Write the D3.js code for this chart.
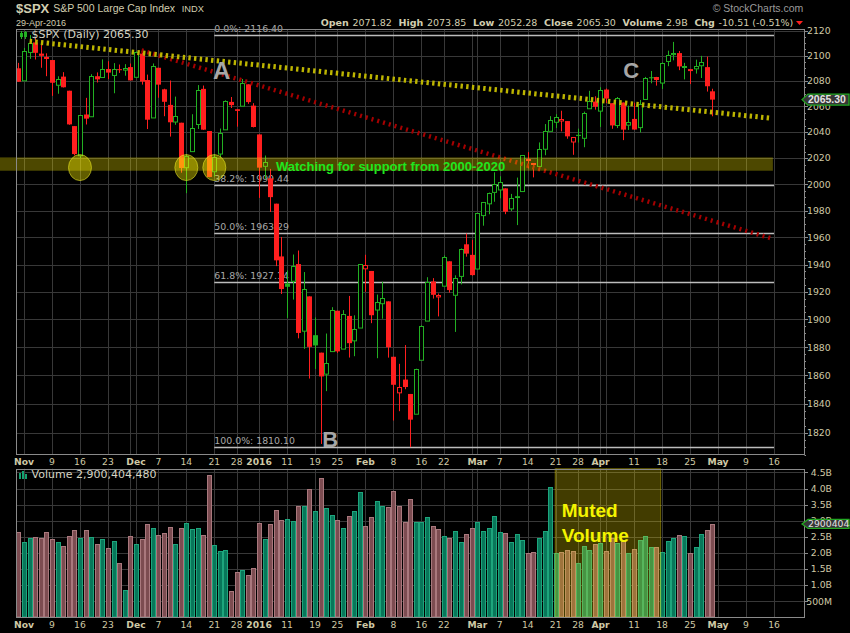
<!DOCTYPE html>
<html><head><meta charset="utf-8">
<script src="https://cdn.jsdelivr.net/npm/d3@7"></script>
<style>html,body{margin:0;padding:0;background:#000;}svg{display:block;}</style>
</head><body>
<svg id="c" width="850" height="633"></svg>
<script>
// ---------------- DATA ----------------
const prevClose = 2089.41; // close before first bar
const openP = [2090.00,2080.76,2102.63,2110.60,2101.68,2098.60,2096.56,2077.19,2083.41,2072.29,
2044.64,2022.08,2053.67,2051.99,2083.70,2082.82,2089.41,2084.42,2089.30,2088.82,
2090.95,2082.93,2101.71,2080.71,2051.24,2090.42,2073.39,2061.17,2047.93,2047.27,
2013.37,2025.55,2046.50,2073.76,2040.81,2010.27,2023.15,2042.20,2063.52,2057.77,
2060.54,2077.34,2060.59,2038.20,2013.78,2004.50,1985.32,1945.97,1926.12,1927.83,
1940.34,1891.68,1916.68,1888.66,1876.18,1861.46,1877.40,1906.28,1878.79,1902.52,
1885.22,1894.00,1936.94,1935.26,1907.07,1911.67,1913.07,1873.25,1848.46,1857.10,
1847.00,1833.40,1871.44,1898.80,1927.57,1916.74,1924.44,1942.38,1917.56,1931.87,
1954.95,1947.13,1937.09,1976.60,1985.60,1994.01,1996.11,1996.88,1981.44,1990.97,
1994.71,2019.27,2015.27,2014.24,2026.90,2041.16,2047.88,2048.64,2048.55,2032.48,
2037.89,2035.75,2058.27,2063.77,2056.62,2073.19,2062.50,2045.56,2063.01,2045.54,
2050.23,2043.72,2065.92,2082.89,2083.10,2078.83,2096.05,2101.52,2102.09,2091.49,
2089.37,2089.84,2092.57,2090.93,2071.82];
const highP = [2094.32,2106.20,2116.48,2114.59,2108.78,2101.91,2096.56,2083.67,2086.94,2072.29,
2044.64,2053.22,2066.69,2085.31,2086.74,2097.06,2095.61,2094.12,2093.00,2093.29,
2093.81,2103.37,2104.27,2085.00,2093.84,2090.42,2073.85,2080.33,2067.65,2047.27,
2022.92,2053.87,2076.72,2076.37,2040.81,2022.90,2042.74,2064.73,2067.36,2057.77,
2081.56,2077.34,2062.54,2038.20,2021.94,2011.71,1985.32,1960.40,1935.65,1947.38,
1950.33,1934.47,1916.68,1901.44,1876.18,1889.85,1908.85,1906.28,1906.73,1916.99,
1902.96,1940.24,1947.20,1935.26,1918.01,1927.35,1913.07,1873.25,1868.25,1881.60,
1847.00,1864.78,1895.77,1930.68,1930.00,1918.78,1946.70,1942.38,1932.08,1951.83,
1962.96,1958.27,1978.35,1986.51,1993.69,2009.13,2006.12,1996.88,1992.69,2005.08,
2022.37,2024.57,2015.94,2032.02,2046.24,2052.36,2053.91,2056.60,2048.55,2036.04,
2042.67,2055.91,2072.21,2067.92,2075.07,2074.02,2062.50,2067.33,2063.01,2060.63,
2062.93,2065.05,2083.18,2087.84,2083.22,2094.66,2104.05,2111.05,2103.78,2094.32,
2089.37,2096.87,2099.89,2099.30,2073.85];
const lowP = [2079.34,2080.76,2097.51,2096.98,2090.41,2083.74,2068.24,2069.91,2074.85,2045.66,
2022.02,2019.94,2045.90,2051.99,2078.76,2082.82,2081.39,2070.29,2086.30,2084.13,
2080.41,2082.93,2077.11,2042.35,2051.24,2066.78,2052.32,2036.53,2045.67,2008.80,
1993.26,2025.55,2042.43,2041.66,2005.33,2005.93,2020.49,2042.20,2058.73,2044.20,
2060.54,2061.97,2043.62,1989.68,2004.17,1979.05,1938.83,1918.46,1901.10,1914.35,
1886.41,1878.93,1857.83,1864.60,1812.29,1848.98,1877.40,1875.97,1878.79,1872.70,
1873.65,1894.00,1920.03,1897.29,1872.23,1900.52,1872.65,1828.46,1834.94,1850.32,
1810.10,1833.40,1871.44,1898.80,1915.09,1902.17,1924.44,1919.44,1891.00,1925.41,
1945.78,1931.81,1937.09,1968.80,1977.37,1986.77,1989.38,1977.43,1979.84,1969.25,
1994.71,2012.05,2005.23,2010.04,2022.16,2041.16,2043.14,2040.57,2034.86,2022.49,
2031.96,2028.31,2058.27,2057.46,2043.98,2062.57,2042.56,2043.09,2033.80,2041.69,
2041.88,2039.74,2065.92,2078.13,2076.31,2073.65,2091.68,2096.32,2088.52,2081.20,
2077.52,2085.80,2082.31,2071.62,2052.28];
const closeP = [2079.36,2104.05,2109.79,2102.31,2099.93,2099.20,2078.58,2081.72,2075.00,2045.97,
2023.04,2053.19,2050.44,2083.58,2081.24,2089.17,2086.59,2089.14,2088.87,2090.11,
2080.41,2102.63,2079.51,2049.62,2091.69,2077.07,2063.59,2047.62,2052.23,2012.37,
2021.94,2043.41,2073.07,2041.89,2005.55,2021.15,2038.97,2064.29,2060.99,2056.50,
2078.36,2063.36,2043.94,2012.66,2016.71,1990.26,1943.09,1922.03,1923.67,1938.68,
1890.28,1921.84,1880.33,1881.33,1859.33,1868.99,1906.90,1877.08,1903.63,1882.95,
1893.36,1940.24,1939.38,1903.03,1912.53,1915.45,1880.05,1853.44,1852.21,1851.86,
1829.08,1864.78,1895.58,1926.82,1917.83,1917.78,1945.50,1921.27,1929.80,1951.70,
1948.05,1932.23,1978.35,1986.45,1993.40,1999.99,2001.76,1979.26,1989.26,1989.57,
2022.19,2019.64,2015.93,2027.22,2040.59,2049.58,2051.60,2049.80,2036.71,2035.94,
2037.05,2055.01,2063.95,2059.74,2072.78,2066.13,2045.17,2066.66,2041.91,2047.60,
2041.99,2061.72,2082.42,2082.78,2080.73,2094.34,2100.80,2102.40,2091.48,2091.58,
2087.79,2091.70,2095.15,2075.81,2065.30];
// volume in billions of shares
const volumeB = [2.64,2.34,2.45,2.48,2.45,2.64,2.43,2.33,2.20,2.52,
2.70,2.45,2.70,2.48,2.27,2.42,2.14,2.36,1.68,0.84,
2.52,2.27,2.42,2.89,2.77,2.55,2.61,2.80,2.27,2.77,
2.92,2.73,2.77,2.55,4.41,2.24,2.05,2.08,0.81,1.40,
1.46,1.30,1.52,2.92,2.42,2.89,3.32,3.01,3.04,2.98,
3.45,3.45,3.98,3.29,4.32,3.39,3.17,3.01,2.77,3.14,
3.29,3.88,2.83,3.11,3.60,3.45,3.42,3.91,3.45,2.95,
3.67,2.95,2.95,3.11,2.84,2.73,2.52,2.46,2.67,2.33,
2.58,2.76,2.95,2.67,2.76,3.14,2.64,2.61,2.33,2.58,
2.39,1.99,2.02,2.45,2.67,4.04,1.99,2.02,2.08,2.05,
1.68,2.20,2.08,2.27,2.30,2.05,2.45,2.30,2.39,1.99,
2.11,2.39,2.52,2.17,2.17,2.02,2.36,2.45,2.55,2.52,
1.99,2.17,2.58,2.70,2.900404480];
// trading calendar
const firstDay = "2015-10-30", lastDay = "2016-05-20";
const holidays = ["2015-11-26","2015-12-25","2016-01-01","2016-01-18","2016-02-15","2016-03-25"];
const tickDates  = ["2015-11-02","2015-11-09","2015-11-16","2015-11-23","2015-12-01","2015-12-07","2015-12-14","2015-12-21","2015-12-28","2016-01-04","2016-01-11","2016-01-19","2016-01-25","2016-02-01","2016-02-08","2016-02-16","2016-02-22","2016-03-01","2016-03-07","2016-03-14","2016-03-21","2016-03-28","2016-04-01","2016-04-11","2016-04-18","2016-04-25","2016-05-02","2016-05-09","2016-05-16"];
const tickLabels = ["Nov","9","16","23","Dec","7","14","21","28","2016","11","19","25","Feb","8","16","22","Mar","7","14","21","28","Apr","11","18","25","May","9","16"];
const extraGridDates = ["2015-11-30","2016-02-29","2016-04-04"];
const priceTicks = [1820,1840,1860,1880,1900,1920,1940,1960,1980,2000,2020,2040,2060,2080,2100,2120];
const volTicks = [0.5,1.0,1.5,2.0,2.5,3.0,3.5,4.0,4.5];
const volTickLabels = ["500M","1.0B","1.5B","2.0B","2.5B","3.0B","3.5B","4.0B","4.5B"];
const fibLevels = [2116.40,1999.44,1963.29,1927.14,1810.10];
const fibLabels = ["0.0%: 2116.40","38.2%: 1999.44","50.0%: 1963.29","61.8%: 1927.14","100.0%: 1810.10"];
const fibSpan = ["2015-12-21","2016-05-16"];
const supportBand = [2010.3, 2020.5];
const supportCircles = ["2015-11-16","2015-12-14","2015-12-21"];
const circlePrice = 2012.7;
const yellowTrend = [[2, 2111.5],[134.64, 2050.7]];   // [bar position, price]
const redTrend    = [[22, 2104.3],[134.64, 1959.2]];
const letters = [["A",36.3,2081.3],["B",55.7,1810.2],["C",109.5,2082.1]];
const supportText = "Watching for support from 2000-2020";
const mutedSpan = [95.9, 114.75];

// ---------------- SETUP ----------------
const days=[];
for(let d=new Date(firstDay+"T12:00:00Z"); d<=new Date(lastDay+"T12:00:00Z"); d.setUTCDate(d.getUTCDate()+1)){
  const wd=d.getUTCDay(), s=d.toISOString().slice(0,10);
  if(wd===0||wd===6||holidays.includes(s)) continue;
  days.push(s);
}
const pos = s => days.indexOf(s);
const svg=d3.select("#c");
const P={l:16,r:804,t:30,b:455}, V={t:468.7,b:617.3};
const x=d3.scaleLinear().domain([-0.43,140.36]).range([P.l,P.r]);
const y=d3.scaleLog().domain([1804.7,2120.6]).range([P.b,P.t]);
const yv=d3.scaleLinear().domain([0,4.615]).range([V.b,V.t]);
const GREEN="#22b022", RED="#ff1f1f", GRID="#383838", AX="#cfc9a6", FRAME="#8a8a8a";
const FONT="'DejaVu Sans', Verdana, sans-serif", AR="'Liberation Sans', Arial, sans-serif";
const crisp=v=>Math.round(v)+0.5;

svg.append("rect").attr("width",850).attr("height",633).attr("fill","#000");

// ---------------- GRIDS ----------------
const gridPos = tickDates.concat(extraGridDates).map(pos);
const grid=svg.append("g").attr("stroke",GRID).attr("stroke-width",1);
grid.selectAll(".hp").data(priceTicks).join("line")
  .attr("x1",P.l).attr("x2",P.r).attr("y1",d=>crisp(y(d))).attr("y2",d=>crisp(y(d)));
grid.selectAll(".hv").data(volTicks).join("line")
  .attr("x1",P.l).attr("x2",P.r).attr("y1",d=>crisp(yv(d))).attr("y2",d=>crisp(yv(d)));
grid.selectAll(".vp").data(gridPos).join("line")
  .attr("x1",d=>crisp(x(d))).attr("x2",d=>crisp(x(d))).attr("y1",P.t).attr("y2",P.b);
grid.selectAll(".vv").data(gridPos).join("line")
  .attr("x1",d=>crisp(x(d))).attr("x2",d=>crisp(x(d))).attr("y1",V.t).attr("y2",V.b);

// ---------------- FIBONACCI ----------------
const fg=svg.append("g");
const fx1=x(pos(fibSpan[0])), fx2=x(pos(fibSpan[1]));
fg.selectAll("line").data(fibLevels).join("line")
  .attr("x1",fx1).attr("x2",fx2).attr("y1",d=>crisp(y(d))).attr("y2",d=>crisp(y(d)))
  .attr("stroke","#bdbdbd").attr("stroke-width",1.3);
fg.selectAll("text").data(fibLevels).join("text")
  .attr("x",fx1).attr("y",d=>y(d)-3.5).text((d,i)=>fibLabels[i])
  .attr("fill","#a9a9a9").attr("font-family",FONT).attr("font-size",9.4);

// ---------------- CANDLES ----------------
const bars=closeP.map((c,i)=>({i,o:openP[i],h:highP[i],l:lowP[i],c,
  up:c>=(i?closeP[i-1]:prevClose), hollow:c>openP[i], v:volumeB[i]}));
const cg=svg.append("g");
cg.selectAll("line").data(bars).join("line")
  .attr("x1",d=>Math.round(x(d.i))+0.5).attr("x2",d=>Math.round(x(d.i))+0.5)
  .attr("y1",d=>y(d.h)).attr("y2",d=>y(d.l)).attr("stroke",d=>d.up?GREEN:RED);
cg.selectAll("rect").data(bars).join("rect")
  .attr("x",d=>Math.round(x(d.i))-(d.hollow?1.5:2))
  .attr("y",d=>d.hollow?Math.round(y(Math.max(d.o,d.c)))+0.5:y(Math.max(d.o,d.c)))
  .attr("width",d=>d.hollow?4:5)
  .attr("height",d=>Math.max(1,y(Math.min(d.o,d.c))-y(Math.max(d.o,d.c))))
  .attr("fill",d=>d.hollow?"#000":(d.up?GREEN:RED))
  .attr("stroke",d=>d.hollow?(d.up?GREEN:RED):"none");

// ---------------- TRENDLINES ----------------
const tl=d3.line().x(d=>x(d[0])).y(d=>y(d[1]));
svg.append("path").attr("d",tl(redTrend)).attr("stroke","#a50000").attr("stroke-width",4.5)
  .attr("stroke-dasharray","2,4").attr("fill","none");
svg.append("path").attr("d",tl(yellowTrend)).attr("stroke","#bdb500").attr("stroke-width",5)
  .attr("stroke-dasharray","2.4,3.3").attr("fill","none");

// ---------------- SUPPORT BAND & CIRCLES ----------------
svg.append("rect").attr("x",0).attr("width",x(134.8))
  .attr("y",y(supportBand[1])).attr("height",y(supportBand[0])-y(supportBand[1]))
  .attr("fill","rgba(255,240,0,0.30)");
svg.selectAll(".circ").data(supportCircles).join("ellipse")
  .attr("cx",d=>x(pos(d))).attr("cy",y(circlePrice)).attr("rx",11.5).attr("ry",13)
  .attr("fill","rgba(255,245,0,0.38)").attr("stroke","rgba(235,235,40,0.55)").attr("stroke-width",1);
svg.append("text").attr("x",x(46.02)).attr("y",y(2010.3)).text(supportText)
  .attr("fill","#1fe61f").attr("font-family",AR).attr("font-weight","bold").attr("font-size",13);

svg.selectAll(".let").data(letters).join("text")
  .attr("x",d=>x(d[1])).attr("y",d=>y(d[2])).attr("text-anchor","middle").text(d=>d[0])
  .attr("fill","#a6a6a6").attr("font-family",AR).attr("font-weight","bold")
  .attr("font-size",d=>d[0]==="A"?24:22);

// ---------------- VOLUME ----------------
const vg=svg.append("g");
vg.selectAll("rect").data(bars).join("rect")
  .attr("x",d=>Math.round(x(d.i))-1.5).attr("width",4)
  .attr("y",d=>Math.round(yv(d.v))+0.5).attr("height",d=>Math.round(V.b)-Math.round(yv(d.v))-0.5)
  .attr("fill",d=>d.up?"#08775a":"#7c4c51").attr("stroke",d=>d.up?"#1da57c":"#a9787d");
svg.append("rect").attr("x",x(mutedSpan[0])).attr("width",x(mutedSpan[1])-x(mutedSpan[0]))
  .attr("y",V.t).attr("height",V.b-V.t).attr("fill","rgba(255,232,0,0.26)")
  .attr("stroke","rgba(255,232,0,0.35)");
svg.append("text").attr("x",x(97.07)).attr("font-family",AR).attr("font-weight","bold")
  .attr("font-size",19).attr("fill","#f4f400")
  .selectAll("tspan").data(["Muted","Volume"]).join("tspan")
  .attr("x",x(97.07)).attr("y",(d,i)=>yv(i?2.35:3.1)).text(d=>d);

// ---------------- FRAMES & AXES ----------------
svg.append("rect").attr("x",P.l+0.5).attr("y",P.t-0.5).attr("width",P.r-P.l).attr("height",P.b-P.t)
  .attr("fill","none").attr("stroke",FRAME);
svg.append("rect").attr("x",P.l+0.5).attr("y",Math.round(V.t)+0.5).attr("width",P.r-P.l).attr("height",Math.round(V.b)-Math.round(V.t))
  .attr("fill","none").attr("stroke",FRAME);

// price axis ticks
const minor=d3.range(1805,2121,5);
svg.append("g").selectAll("line").data(minor).join("line")
  .attr("x1",P.r+0.5).attr("x2",d=>P.r+(d%20===0?4:2)).attr("y1",d=>crisp(y(d))).attr("y2",d=>crisp(y(d)))
  .attr("stroke",FRAME);
svg.append("g").selectAll("text").data(priceTicks).join("text")
  .attr("x",807).attr("y",d=>y(d)).attr("dy","0.36em").text(d=>d)
  .attr("fill",AX).attr("font-family",FONT).attr("font-size",9.3);
// volume axis
svg.append("g").selectAll("line").data(volTicks).join("line")
  .attr("x1",P.r+0.5).attr("x2",P.r+4).attr("y1",d=>crisp(yv(d))).attr("y2",d=>crisp(yv(d))).attr("stroke",FRAME);
svg.append("g").selectAll("text").data(volTicks).join("text")
  .attr("x",832).attr("y",d=>yv(d)).attr("dy","0.36em").attr("text-anchor","end").text((d,i)=>volTickLabels[i])
  .attr("fill",AX).attr("font-family",FONT).attr("font-size",9.3);

// date labels (two rows)
[465,627.7].forEach(by=>{
  svg.append("g").selectAll("text").data(tickDates).join("text")
    .attr("x",d=>x(pos(d))).attr("y",by).attr("text-anchor","middle")
    .text((d,i)=>tickLabels[i])
    .attr("font-weight",(d,i)=>isNaN(+tickLabels[i])||tickLabels[i]==="2016"?"bold":"normal")
    .attr("fill",AX).attr("font-family",FONT).attr("font-size",9.2);
});

// last-value markers
const last=bars.length-1;
function marker(yc,txt,bold,h){
  const gm=svg.append("g");
  gm.append("path").attr("d",`M802,${yc} L808,${yc-h/2} L849,${yc-h/2} L849,${yc+h/2} L808,${yc+h/2} Z`)
    .attr("fill","#363636").attr("stroke","#22a822").attr("stroke-width",1.3);
  gm.append("text").attr("x",808).attr("y",yc).attr("dy","0.36em").text(txt)
    .attr("fill","#e2e2e2").attr("font-family",bold?AR:FONT).attr("font-weight",bold?"bold":"normal")
    .attr("font-size",bold?10.5:9.3);
}
marker(y(closeP[last]),closeP[last].toFixed(2),true,11);
marker(yv(volumeB[last]),String(Math.round(volumeB[last]*1e9)),false,9);

// ---------------- LEGENDS ----------------
const icon=svg.append("g");
icon.append("line").attr("x1",21.5).attr("x2",21.5).attr("y1",31).attr("y2",39).attr("stroke",GREEN);
icon.append("rect").attr("x",20).attr("y",33).attr("width",3).attr("height",4).attr("fill",GREEN);
icon.append("line").attr("x1",25.5).attr("x2",25.5).attr("y1",31).attr("y2",39).attr("stroke",GREEN);
icon.append("rect").attr("x",24).attr("y",32).attr("width",3).attr("height",5).attr("fill",GREEN);
svg.append("text").attr("x",31.5).attr("y",38.3).text(`$SPX (Daily) ${closeP[last].toFixed(2)}`)
  .attr("fill","#d4d4c4").attr("font-family",FONT).attr("font-size",11);
const vic=svg.append("g").attr("fill","#13a070");
[[19,473,2,6],[22,471,2,8],[25,474,2,5]].forEach(r=>vic.append("rect").attr("x",r[0]).attr("y",r[1]).attr("width",r[2]).attr("height",r[3]));
svg.append("text").attr("x",31.5).attr("y",478.3).text(`Volume ${d3.format(",")(Math.round(volumeB[last]*1e9))}`)
  .attr("fill","#d4d4c4").attr("font-family",FONT).attr("font-size",11);

// ---------------- HEADER ----------------
svg.append("text").attr("x",16).attr("y",13.3).text("$SPX").attr("fill","#d2ceb0")
  .attr("font-family",AR).attr("font-weight","bold").attr("font-size",13);
svg.append("text").attr("x",53.3).attr("y",12.4).text("S&P 500 Large Cap Index").attr("fill","#d2ceb0")
  .attr("font-family",AR).attr("font-size",10.5);
svg.append("text").attr("x",181.7).attr("y",12.4).text("INDX").attr("fill","#d2ceb0")
  .attr("font-family",AR).attr("font-size",9.3);
svg.append("text").attr("x",16).attr("y",26).text("29-Apr-2016").attr("fill","#d2ceb0")
  .attr("font-family",AR).attr("font-size",9);
svg.append("text").attr("x",803.3).attr("y",12.3).attr("text-anchor","end").text("\u00A9 StockCharts.com")
  .attr("fill","#9a9a9a").attr("font-family",AR).attr("font-size",10.5);

const chg=closeP[last]-closeP[last-1];
const hdr=[["Open",1],[openP[last].toFixed(2),0],["High",1],[highP[last].toFixed(2),0],
  ["Low",1],[lowP[last].toFixed(2),0],["Close",1],[closeP[last].toFixed(2),0],
  ["Volume",1],[volumeB[last].toFixed(1)+"B",0],["Chg",1],
  [`${chg.toFixed(2)} (${(chg/closeP[last-1]*100).toFixed(2)}%)`,0]];
const hg=svg.append("g");
let cx=0;
hdr.forEach((h,i)=>{
  const t=hg.append("text").attr("x",cx).attr("y",26).text(h[0]).attr("fill","#d2ceb0")
    .attr("font-family",FONT).attr("font-size",9.5).attr("font-weight",h[1]?"bold":"normal");
  cx+=t.node().getComputedTextLength()+(h[1]?3.7:6.7);
});
const total=cx-6.7;
hg.attr("transform",`translate(${793.3-total},0)`);
svg.append("path").attr("d","M796,21 L803,21 L799.5,25 Z").attr("fill","#ff2020");
</script>
</body></html>
